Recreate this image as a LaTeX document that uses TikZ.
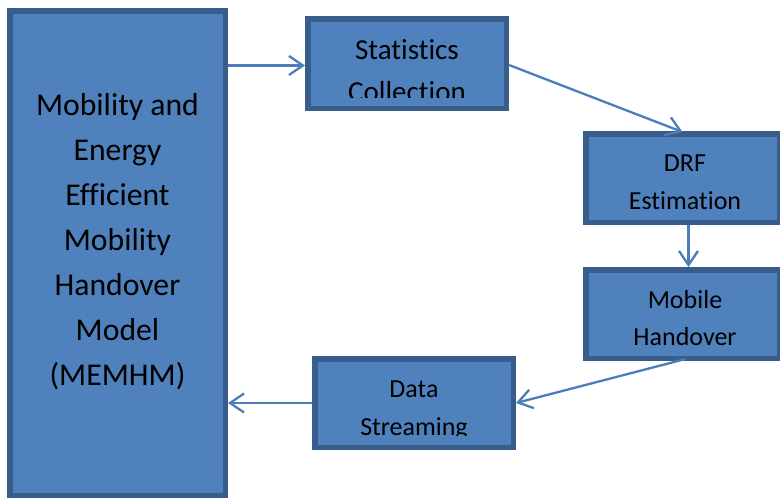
\documentclass[tikz,border=0pt]{standalone}
\usepackage{fontspec}
\setmainfont{Carlito}[Ligatures={NoCommon}, RawFeature={-liga}]
\usetikzlibrary{arrows.meta}
\definecolor{boxfill}{HTML}{4F81BD}
\definecolor{boxline}{HTML}{385D8A}
\definecolor{flow}{HTML}{4A7EBB}
\tikzset{
  block/.style={rectangle, draw=boxline, fill=boxfill, line width=5.5pt, inner sep=0pt},
  flowarrow/.style={draw=flow, line width=2.3pt, -{Straight Barb[length=14pt,width=19pt]}},
  bigtxt/.style={font=\fontsize{31.7}{45}\selectfont, anchor=base, inner sep=0pt},
  midtxt/.style={font=\fontsize{29}{42}\selectfont, anchor=base, inner sep=0pt},
  smalltxt/.style={font=\fontsize{26}{38}\selectfont, anchor=base, inner sep=0pt}
}
\begin{document}
\begin{tikzpicture}[x=1pt,y=-1pt]
\useasboundingbox (0,0) rectangle (780,499);

% boxes (sizes are border centre lines)
\node[block, minimum width=215.5pt, minimum height=484.5pt] (memhm) at (117.5,253) {};
\node[block, minimum width=198.5pt, minimum height=89.5pt] (stat) at (407,63.5) {};
\node[block, minimum width=193.5pt, minimum height=88.5pt] (drf) at (682.5,178) {};
\node[block, minimum width=193.5pt, minimum height=88.5pt] (mob) at (682.5,314) {};
\node[block, minimum width=198.5pt, minimum height=88.5pt] (data) at (414,403) {};

% labels
\foreach \t [count=\i from 0] in {Mobility and, Energy, Efficient, Mobility, Handover, Model, (MEMHM)}
  \node[bigtxt] (ml\i) at (117.5,115+45*\i) {\t};

\begin{scope}
  \clip (stat.north west) rectangle (509,97);
  \node[midtxt] (st1) at (407,59) {Statistics};
  \node[midtxt] (st2) at (407,101) {Collection};
\end{scope}

\node[smalltxt] (dr1) at (685,171) {DRF};
\node[smalltxt] (dr2) at (685,209) {Estimation};

\node[smalltxt] (mo1) at (685,308) {Mobile};
\node[smalltxt] (mo2) at (685,345) {Handover};

\begin{scope}
  \clip (data.north west) rectangle (516,435);
  \node[smalltxt] (da1) at (414,397) {Data};
  \node[smalltxt] (da2) at (414,435) {Streaming};
\end{scope}

% connectors
\coordinate (row1) at (0,65.5);
\draw[flowarrow] (memhm.east |- row1) -- (stat.west |- row1);
\draw[flowarrow] ([yshift=-1.5pt]stat.east) -- ([yshift=-1pt]drf.north);
\draw[flowarrow] ([xshift=6pt]drf.south) -- ([xshift=6pt]mob.north);
\draw[flowarrow] ([shift={(3pt,2pt)}]mob.south) -- (data.east);
\draw[flowarrow] (data.west) -- (memhm.east |- data.west);
\end{tikzpicture}
\end{document}
